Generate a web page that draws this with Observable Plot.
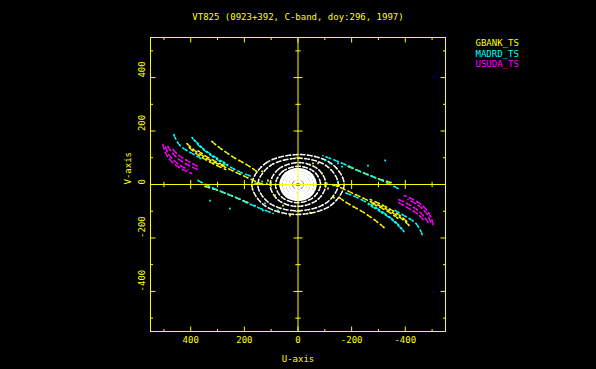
<!DOCTYPE html>
<html><head><meta charset="utf-8">
<script src="https://cdn.jsdelivr.net/npm/d3@7"></script>
<script src="https://cdn.jsdelivr.net/npm/@observablehq/plot@0.6"></script>
<style>html,body{margin:0;padding:0;background:#000;overflow:hidden;}</style>
</head><body><div id="chart"></div>
<script>
// ---------- text ----------
const title = "VT825 (0923+392, C-band, doy:296, 1997)";
const xLabel = "U-axis";
const yLabel = "V-axis";
const stations = ["GBANK_TS", "MADRD_TS", "USUDA_TS"];
const majorTicks = [-400, -200, 0, 200, 400];
const minorTicks = [-500, -300, -100, 100, 300, 500];

// ---------- space-baseline tracks [u, v] ----------
const gbankTracks = [
  [[321,161],[298,142],[272,123],[239,101],[205,82],[175,64],[149,45]],
  [[-321,-161],[-298,-142],[-272,-123],[-239,-101],[-205,-82],[-175,-64],[-149,-45]],
  [[414,153],[395,135],[369,116],[339,97],[310,82],[276,67],[239,49],[198,30],[157,11],[119,-4]],
  [[-414,-153],[-395,-135],[-369,-116],[-339,-97],[-310,-82],[-276,-67],[-239,-49],[-198,-30],[-157,-11],[-119,4]],
  [[405,138],[385,120],[358,101],[328,84],[298,69],[265,54]],
  [[-405,-138],[-385,-120],[-358,-101],[-328,-84],[-298,-69],[-265,-54]],
  [[372,126],[350,110],[322,94],[295,80],[268,68]],
  [[-372,-126],[-350,-110],[-322,-94],[-295,-80],[-268,-68]],
  [[347,-7],[298,-22],[261,-37],[224,-52],[179,-71]],
  [[-347,7],[-298,22],[-261,37],[-224,52],[-179,71]]
];
const madrdTracks = [
  [[463,187],[451,161],[436,142],[414,127],[388,112],[362,97]],
  [[-463,-187],[-451,-161],[-436,-142],[-414,-127],[-388,-112],[-362,-97]],
  [[395,176],[380,157],[362,138],[339,120],[313,101],[283,82],[250,64],[213,45],[172,30]],
  [[-395,-176],[-380,-157],[-362,-138],[-339,-120],[-313,-101],[-283,-82],[-250,-64],[-213,-45],[-172,-30]],
  [[385,165],[366,146],[345,127],[320,110],[292,92],[262,75]],
  [[-385,-165],[-366,-146],[-345,-127],[-320,-110],[-292,-92],[-262,-75]],
  [[373,15],[336,-4],[287,-26],[239,-45],[194,-67],[149,-86],[93,-108]],
  [[-373,-15],[-336,4],[-287,26],[-239,45],[-194,67],[-149,86],[-93,108]]
];
const usudaTracks = [
  [[504,150],[496,123],[481,97],[459,75],[429,56],[395,41]],
  [[-504,-150],[-496,-123],[-481,-97],[-459,-75],[-429,-56],[-395,-41]],
  [[485,142],[470,120],[448,97],[421,79],[392,64],[366,52]],
  [[-485,-142],[-470,-120],[-448,-97],[-421,-79],[-392,-64],[-366,-52]],
  [[466,131],[448,112],[421,94],[395,79],[373,67]],
  [[-466,-131],[-448,-112],[-421,-94],[-395,-79],[-373,-67]],
  [[494,140],[484,115],[465,92],[440,72],[410,56]],
  [[-494,-140],[-484,-115],[-465,-92],[-440,-72],[-410,-56]]
];
const gbankScatter = [[134,49],[112,15],[153,4],[86,-41],[-75,79],[-90,41],[-112,-15],[-56,79],[56,-79],[-45,-105],[30,-116],[-134,-49],[-153,-4]];
const madrdScatter = [[-101,90],[-119,79],[-149,79],[-164,67],[160,-79],[131,-97],[123,-71],[75,-97],[160,4],[134,11],[116,4],[-108,4],[-131,-4],[-149,11],[328,-60],[254,-90],[-261,71],[-325,90]];

// ---------- ground-baseline ellipses [u, v] ----------
const groundRings = [
  [[172,0],[120,80],[-12,112],[-128,76],[-172,0],[-120,-80],[12,-112],[128,-76]],
  [[150,0],[104,70],[-10,98],[-110,67],[-150,0],[-104,-70],[10,-98],[110,-67]],
  [[104,0],[72,58],[-6,82],[-76,56],[-104,0],[-72,-58],[6,-82],[76,-56]],
  [[84,0],[58,48],[-4,68],[-62,46],[-84,0],[-58,-48],[4,-68],[62,-46]]
];
const groundCore = [
  [[64,0],[45,40],[0,56],[-45,40],[-64,0],[-45,-40],[0,-56],[45,-40]],
  [[52,0],[37,32],[0,45],[-37,32],[-52,0],[-37,-32],[0,-45],[37,-32]],
  [[40,0],[28,25],[0,35],[-28,25],[-40,0],[-28,-25],[0,-35],[28,-25]],
  [[28,0],[20,17],[0,24],[-20,17],[-28,0],[-20,-17],[0,-24],[20,-17]],
  [[15,0],[0,13],[-15,0],[0,-13]]
];

// ---------- build tables ----------
const trackRows = [];
[[stations[0], gbankTracks], [stations[1], madrdTracks], [stations[2], usudaTracks]].forEach(([s, tracks]) =>
  tracks.forEach((t, i) => t.forEach(([u, v]) => trackRows.push({station: s, track: s + i, u, v}))));
const scatterRows = [];
[[stations[0], gbankScatter], [stations[1], madrdScatter]].forEach(([s, pts]) =>
  pts.forEach(([u, v]) => scatterRows.push({station: s, u, v})));
const ringRows = [];
groundRings.forEach((r, i) => r.forEach(([u, v]) => ringRows.push({ring: i, u, v})));
const coreRows = [];
groundCore.forEach((r, i) => r.forEach(([u, v]) => coreRows.push({ring: i, u, v})));

// ---------- styling ----------
const yel = "#ffff00";
const symV = (up, down) => ({draw(ctx, size) { const r = Math.sqrt(size / Math.PI); ctx.moveTo(0, -r * up); ctx.lineTo(0, r * down); }});
const symH = (left, right) => ({draw(ctx, size) { const r = Math.sqrt(size / Math.PI); ctx.moveTo(-r * left, 0); ctx.lineTo(r * right, 0); }});
const tk = (data, o) => Plot.dot(data, {stroke: yel, fill: "none", strokeWidth: 1, ...o});
const nz = majorTicks.filter(d => d !== 0);

const chart = Plot.plot({
  width: 596, height: 369,
  marginLeft: 150, marginRight: 151, marginTop: 37, marginBottom: 38,
  x: {domain: [550, -550]},
  y: {domain: [-550, 550], axis: null},
  color: {domain: stations, range: ["#ffff00", "#00ffff", "#ff00ff"]},
  style: {background: "#000", color: yel, fontFamily: "'DejaVu Sans Mono', monospace", fontSize: "9px"},
  marks: [
    Plot.line(ringRows, {x: "u", y: "v", z: "ring", stroke: "white", strokeWidth: 1.6, strokeDasharray: "1.6,1.4,1.6,2.6", curve: "catmull-rom-closed"}),
    Plot.line(coreRows, {x: "u", y: "v", z: "ring", stroke: "white", strokeWidth: 3.4, strokeDasharray: "4,1.5,2,1.5", curve: "catmull-rom-closed"}),
    Plot.line(trackRows, {x: "u", y: "v", z: "track", stroke: "station", strokeWidth: 1.6, strokeDasharray: "1.6,1.6,1.6,3.4", curve: "catmull-rom"}),
    Plot.dot(scatterRows, {x: "u", y: "v", fill: "station", r: 1, symbol: "square"}),
    Plot.ruleX([0], {stroke: yel}),
    Plot.ruleY([0], {stroke: yel}),
    Plot.frame({stroke: yel}),
    tk(majorTicks, {x: d => d, frameAnchor: "top", symbol: symV(0, 1), r: 5}),
    tk(minorTicks, {x: d => d, frameAnchor: "top", symbol: symV(0, 1), r: 2.5}),
    tk(majorTicks, {x: d => d, frameAnchor: "bottom", symbol: symV(1, 0), r: 5}),
    tk(minorTicks, {x: d => d, frameAnchor: "bottom", symbol: symV(1, 0), r: 2.5}),
    tk(majorTicks, {y: d => d, frameAnchor: "left", symbol: symH(0, 1), r: 5}),
    tk(minorTicks, {y: d => d, frameAnchor: "left", symbol: symH(0, 1), r: 2.5}),
    tk(majorTicks, {y: d => d, frameAnchor: "right", symbol: symH(1, 0), r: 5}),
    tk(minorTicks, {y: d => d, frameAnchor: "right", symbol: symH(1, 0), r: 2.5}),
    tk(nz, {x: d => d, y: 0, symbol: symV(1, 1), r: 4.5}),
    tk(minorTicks, {x: d => d, y: 0, symbol: symV(1, 1), r: 2.7}),
    tk(nz, {x: 0, y: d => d, symbol: symH(1, 1), r: 4.5}),
    tk(minorTicks, {x: 0, y: d => d, symbol: symH(1, 1), r: 2.7}),
    Plot.axisX(majorTicks, {anchor: "bottom", tickSize: 0, tickPadding: 5, label: null, tickFormat: d => String(d), color: yel}),
    Plot.text(majorTicks, {y: d => d, text: d => String(d), frameAnchor: "left", dx: -8, rotate: -90, fill: yel}),
    Plot.text([xLabel], {frameAnchor: "bottom", dy: 30, text: d => d, fill: yel}),
    Plot.text([yLabel], {frameAnchor: "left", dx: -22, rotate: -90, text: d => d, fill: yel}),
    Plot.text([title], {frameAnchor: "top", dy: -24, text: d => d, fill: yel}),
    ...stations.map((s, i) => Plot.text([s], {frameAnchor: "top-right", dx: 30, dy: 2 + i * 10.7, text: d => d, fill: d => d, textAnchor: "start"}))
  ]
});
document.getElementById("chart").appendChild(chart);
</script>
</body></html>
